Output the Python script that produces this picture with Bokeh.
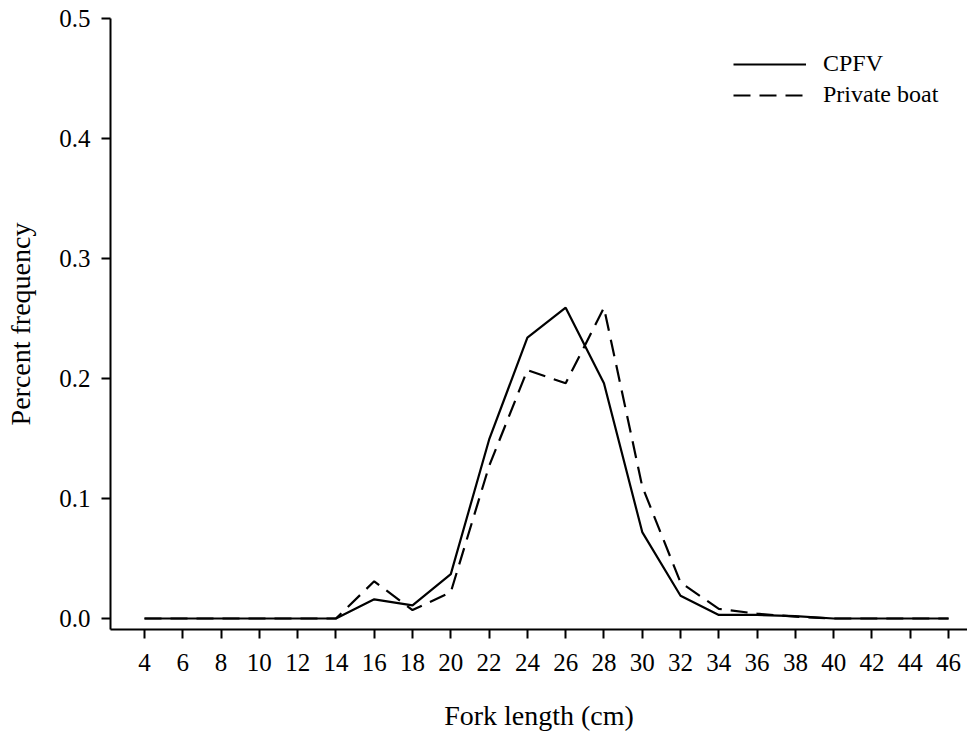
from bokeh.embed import file_html
from bokeh.models import FixedTicker, Legend, LegendItem
from bokeh.plotting import figure
from bokeh.resources import INLINE

# fork length classes (cm) and percent frequency per fishing mode
lengths = [4, 6, 8, 10, 12, 14, 16, 18, 20, 22, 24, 26, 28, 30, 32, 34, 36, 38, 40, 42, 44, 46]
cpfv = [0, 0, 0, 0, 0, 0, 0.016, 0.011, 0.037, 0.149, 0.234, 0.259, 0.196, 0.072,
        0.019, 0.003, 0.003, 0.002, 0, 0, 0, 0]
private_boat = [0, 0, 0, 0, 0, 0, 0.031, 0.007, 0.022, 0.127, 0.207, 0.196, 0.259, 0.110,
                0.030, 0.008, 0.004, 0.0015, 0, 0, 0, 0]
y_ticks = [0.0, 0.1, 0.2, 0.3, 0.4, 0.5]
y_tick_labels = ["0.0", "0.1", "0.2", "0.3", "0.4", "0.5"]

FONT = "Liberation Serif"

p = figure(width=967, height=733, x_range=(2.224, 46.99), y_range=(-0.00917, 0.5),
           output_backend="svg", toolbar_location=None,
           min_border_left=110, min_border_top=18, min_border_right=0, min_border_bottom=104)
p.outline_line_color = None
p.grid.grid_line_color = None
p.background_fill_color = "white"

r1 = p.line(lengths, cpfv, line_color="black", line_width=2.2)
r2 = p.line(lengths, private_boat, line_color="black", line_width=2.2, line_dash="17 9")

p.xaxis.ticker = FixedTicker(ticks=lengths)
p.yaxis.ticker = FixedTicker(ticks=y_ticks)
p.yaxis.major_label_overrides = {t: s for t, s in zip(y_ticks, y_tick_labels)}
p.xaxis.axis_label = "Fork length (cm)"
p.yaxis.axis_label = "Percent frequency"

for ax in (p.xaxis, p.yaxis):
    ax.axis_line_color = "black"
    ax.axis_line_width = 2
    ax.major_tick_line_color = "black"
    ax.major_tick_line_width = 2
    ax.major_tick_in = 0
    ax.major_tick_out = 9
    ax.minor_tick_line_color = None
    ax.major_label_text_font = FONT
    ax.major_label_text_font_size = "25px"
    ax.major_label_text_color = "black"
    ax.axis_label_text_font = FONT
    ax.axis_label_text_font_size = "28px"
    ax.axis_label_text_font_style = "normal"
    ax.axis_label_text_color = "black"
p.xaxis.major_label_standoff = 15
p.yaxis.major_label_standoff = 11
p.xaxis.axis_label_standoff = 26
p.yaxis.axis_label_standoff = 20

legend = Legend(items=[LegendItem(label="CPFV", renderers=[r1]),
                       LegendItem(label="Private boat", renderers=[r2])],
                location=(623, 521))
legend.border_line_color = None
legend.background_fill_alpha = 0
legend.label_text_font = FONT
legend.label_text_font_size = "24px"
legend.label_text_color = "black"
legend.glyph_width = 73
legend.glyph_height = 26
legend.label_height = 26
legend.label_standoff = 17
legend.spacing = 4
legend.padding = 0
legend.margin = 0
p.add_layout(legend)

open("out.html", "w").write(file_html(p, INLINE))
